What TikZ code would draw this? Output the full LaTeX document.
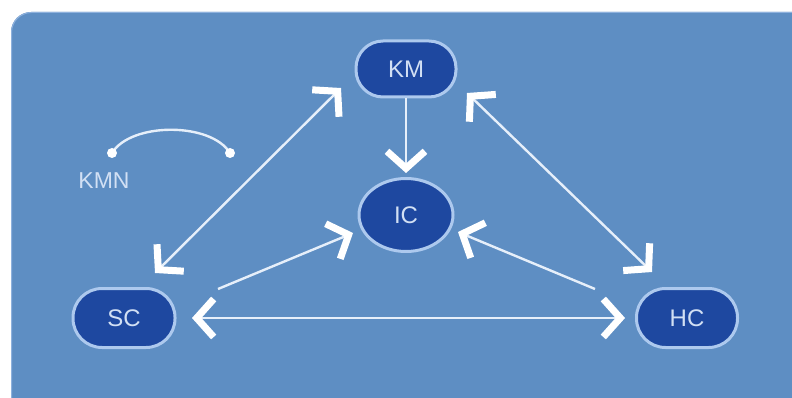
\documentclass[tikz,border=0pt]{standalone}
\usepackage{fontspec}
\setmainfont{Liberation Sans}
\usetikzlibrary{arrows.meta,shapes.geometric}
\definecolor{bgblue}{HTML}{5E8EC3}
\definecolor{nodeblue}{HTML}{1E48A0}
\definecolor{rimblue}{HTML}{ADC9EE}
\definecolor{txtblue}{HTML}{D2E0F4}
\definecolor{linewhite}{HTML}{E6EFFA}
\tikzset{
  pill/.style={draw=rimblue, line width=3pt, fill=nodeblue, rounded corners=27pt,
    minimum width=100pt, minimum height=56pt, inner sep=0pt,
    text=txtblue, font=\fontsize{24}{24}\selectfont},
  oval/.style={ellipse, draw=rimblue, line width=3pt, fill=nodeblue,
    minimum width=94pt, minimum height=73pt, inner sep=0pt,
    text=txtblue, font=\fontsize{24}{24}\selectfont},
  chev/.tip={Straight Barb[length=17pt, width=38pt, line width=7pt, color=white]},
  conn/.style={draw=linewhite, line width=2.4pt},
  oneway/.style={conn, -chev},
  twoway/.style={conn, chev-chev},
}
\begin{document}
\begin{tikzpicture}[x=1pt, y=-1pt]
\useasboundingbox (0,0) rectangle (792,398);
\fill[white] (0,0) rectangle (792,398);
\fill[bgblue, rounded corners=20pt] (11,12) rectangle (812,420);
\draw[rimblue!60!bgblue, line width=1pt, rounded corners=20pt] (11.5,420) -- (11.5,12.5) -- (812,12.5);

% nodes
\node[pill] (KM) at (406,69) {KM};
\node[oval] (IC) at (406,215) {IC};
\node[pill, minimum width=102pt, minimum height=59pt, rounded corners=29pt] (SC) at (124,318) {SC};
\node[pill, minimum width=101pt, minimum height=59pt, rounded corners=29pt] (HC) at (687,318) {HC};

% connector end points
\coordinate (scKM) at (155,273);
\coordinate (kmSC) at (341,88);
\coordinate (kmHC) at (467,93);
\coordinate (hcKM) at (652,272);
\coordinate (kmIC) at (406,173);
\coordinate (scIC) at (218,289);
\coordinate (icSC) at (353,233);
\coordinate (hcIC) at (595,289);
\coordinate (icHC) at (458,232);
\coordinate (scHC) at (192,318);
\coordinate (hcSC) at (625,318);

\draw[oneway] (KM.south) -- (kmIC);
\draw[oneway] (scIC) -- (icSC);
\draw[oneway] (hcIC) -- (icHC);
\draw[twoway] (scKM) -- (kmSC);
\draw[twoway] (kmHC) -- (hcKM);
\draw[twoway] (scHC) -- (hcSC);

% legend
\coordinate (lg1) at (112,153);
\coordinate (lg2) at (230,153);
\draw[linewhite, line width=2.4pt] (lg1) .. controls (131,122) and (211,122) .. (lg2);
\fill[white] (lg1) circle (5pt);
\fill[white] (lg2) circle (5pt);
\node[text=txtblue, font=\fontsize{23}{23}\selectfont] (KMN) at (104,181) {KMN};
\end{tikzpicture}
\end{document}
